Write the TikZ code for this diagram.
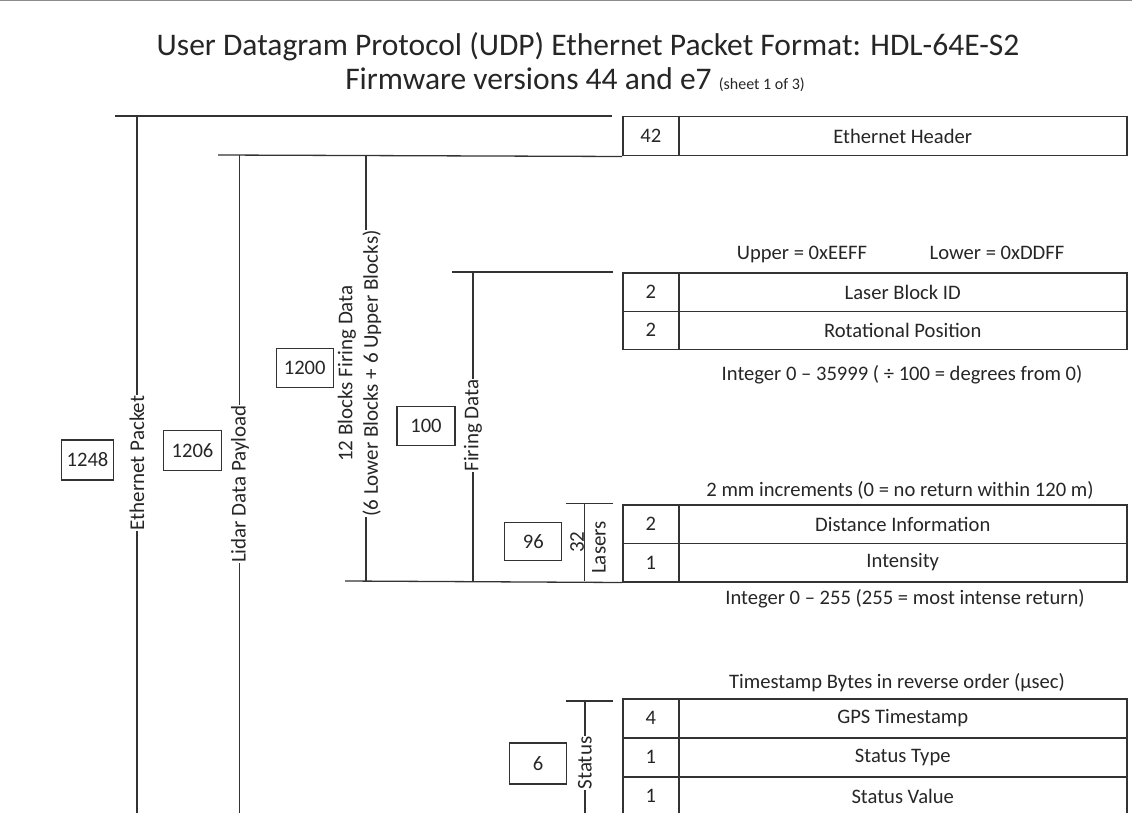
\documentclass[tikz,border=0pt]{standalone}
\usepackage{fontspec}
\setmainfont{Carlito}
\begin{document}
\begin{tikzpicture}[x=1pt,y=-1pt,
  ln/.style={draw=black!80, line width=1.3pt},
  cell/.style={draw=black!80, line width=1.5pt, anchor=north west, inner sep=0pt, font=\fontsize{20.6}{22}\selectfont, text=black!85},
  numcell/.style={cell, minimum width=56pt},
  txtcell/.style={cell, minimum width=448pt},
  sizebox/.style={draw=black!80, line width=1.3pt, inner sep=0pt, minimum width=57pt, minimum height=40pt, font=\fontsize{20.6}{22}\selectfont, text=black!85},
  vlabel/.style={rotate=90, fill=white, inner sep=0.5pt, font=\fontsize{21}{23}\selectfont, text=black!85},
  note/.style={anchor=base, font=\fontsize{20.6}{22}\selectfont, text=black!85, inner sep=0pt},
  titletext/.style={anchor=base, font=\fontsize{31.5}{34}\selectfont, text=black!85, inner sep=0pt},
]
\path[use as bounding box] (0,0) rectangle (1132,813);

% top edge line
\coordinate (tl) at (0,1); \coordinate (tr) at (1132,1);
\draw[black!45, line width=1pt] (tl) -- (tr);

% titles
\node[titletext] (title1) at (588,56) {User Datagram Protocol (UDP) Ethernet Packet Format: HDL-64E-S2};
\node[titletext] (title2) at (575,90) {Firmware versions 44 and e7 {\fontsize{16}{18}\selectfont (sheet 1 of 3)}};

% ---------- tables ----------
\node[numcell, minimum height=39pt] (eh42) at (622,116) {42};
\node[txtcell, minimum height=39pt] (ehtxt) at (678,116) {Ethernet Header};

\node[numcell, minimum height=38.5pt] (lb2) at (622,272) {2};
\node[txtcell, minimum height=38.5pt] (lbtxt) at (678,272) {Laser Block ID};
\node[numcell, minimum height=38pt] (rp2) at (622,310.5) {2};
\node[txtcell, minimum height=38pt] (rptxt) at (678,310.5) {Rotational Position};

\node[numcell, minimum height=38.5pt] (di2) at (622,504) {2};
\node[txtcell, minimum height=38.5pt] (ditxt) at (678,504) {Distance Information};
\node[numcell, minimum height=38.5pt] (in1) at (622,542.5) {1};
\node[txtcell, minimum height=38.5pt] (intxt) at (678,542.5) {Intensity};

\node[numcell, minimum height=39pt] (gp4) at (622,698) {4};
\node[txtcell, minimum height=39pt] (gptxt) at (678,698) {GPS Timestamp};
\node[numcell, minimum height=39pt] (st1) at (622,737) {1};
\node[txtcell, minimum height=39pt] (sttxt) at (678,737) {Status Type};
\node[numcell, minimum height=39pt] (sv1) at (622,776) {1};
\node[txtcell, minimum height=39pt] (svtxt) at (678,776) {Status Value};

% ---------- notes ----------
\node[note] (upper) at (802,259) {Upper = 0xEEFF};
\node[note] (lower) at (997,259) {Lower = 0xDDFF};
\node[note] (rpnote) at (902,380) {Integer 0 – 35999 ( ÷ 100 = degrees from 0)};
\node[note] (dinote) at (900,496) {2 mm increments (0 = no return within 120 m)};
\node[note] (innote) at (905,604) {Integer 0 – 255 (255 = most intense return)};
\node[note] (tsnote) at (897,688.5) {Timestamp Bytes in reverse order (µsec)};

% ---------- bracket lines ----------
% Ethernet packet
\coordinate (ep0) at (115,116); \coordinate (ep1) at (612,116);
\coordinate (ept) at (137,116); \coordinate (epb) at (137,815);
\draw[ln] (ep0) -- (ep1);
\draw[ln] (ept) -- (epb);
% Lidar data payload
\coordinate (ld0) at (218,155);
\coordinate (ldt) at (239.5,155); \coordinate (ldb) at (239.5,815);
\draw[ln] (ld0) -- (eh42.south west);
\draw[ln] (ldt) -- (ldb);
% 12 blocks
\coordinate (bkt) at (366,155); \coordinate (bkb) at (366,581);
\draw[ln] (bkt) -- (bkb);
% firing data
\coordinate (fd0) at (452,272); \coordinate (fd1) at (613,272);
\coordinate (fdt) at (473,272); \coordinate (fdb) at (473,581);
\draw[ln] (fd0) -- (fd1);
\draw[ln] (fdt) -- (fdb);
% bottom of firing data
\coordinate (bt0) at (345,581);
\draw[ln] (bt0) -- (in1.south west);
% 32 lasers
\coordinate (ls0) at (566,503.5); \coordinate (ls1) at (613,503.5);
\coordinate (lst) at (584.5,503.5); \coordinate (lsb) at (584.5,581);
\draw[ln] (ls0) -- (ls1);
\draw[ln] (lst) -- (lsb);
% status
\coordinate (ss0) at (566,701); \coordinate (ss1) at (613,701);
\coordinate (sst) at (585,701); \coordinate (ssb) at (585,815);
\draw[ln] (ss0) -- (ss1);
\draw[ln] (sst) -- (ssb);

% ---------- vertical labels ----------
\node[vlabel] (lEP) at (137,463) {Ethernet Packet};
\node[vlabel] (lLDP) at (240,484) {Lidar Data Payload};
\node[vlabel] (l12a) at (347,373.5) {12 Blocks Firing Data};
\node[vlabel] (l12b) at (372,373.5) {(6 Lower Blocks + 6 Upper Blocks)};
\node[vlabel] (lFD) at (473,425.5) {Firing Data};
\node[vlabel] (l32) at (577,542) {32};
\node[vlabel] (lLas) at (599,547.5) {Lasers};
\node[vlabel] (lSt) at (585,763) {Status};

% ---------- size boxes ----------
\node[sizebox, minimum width=52pt] (s1248) at (87.5,460) {1248};
\node[sizebox, minimum width=58pt] (s1206) at (192.5,450.7) {1206};
\node[sizebox, minimum height=39pt] (s1200) at (304.7,368) {1200};
\node[sizebox, minimum width=58pt, minimum height=39pt] (s100) at (426,426.3) {100};
\node[sizebox, minimum height=38pt] (s96) at (533.3,541.8) {96};
\node[sizebox, minimum height=41pt] (s6) at (538,763.5) {6};

\end{tikzpicture}
\end{document}
